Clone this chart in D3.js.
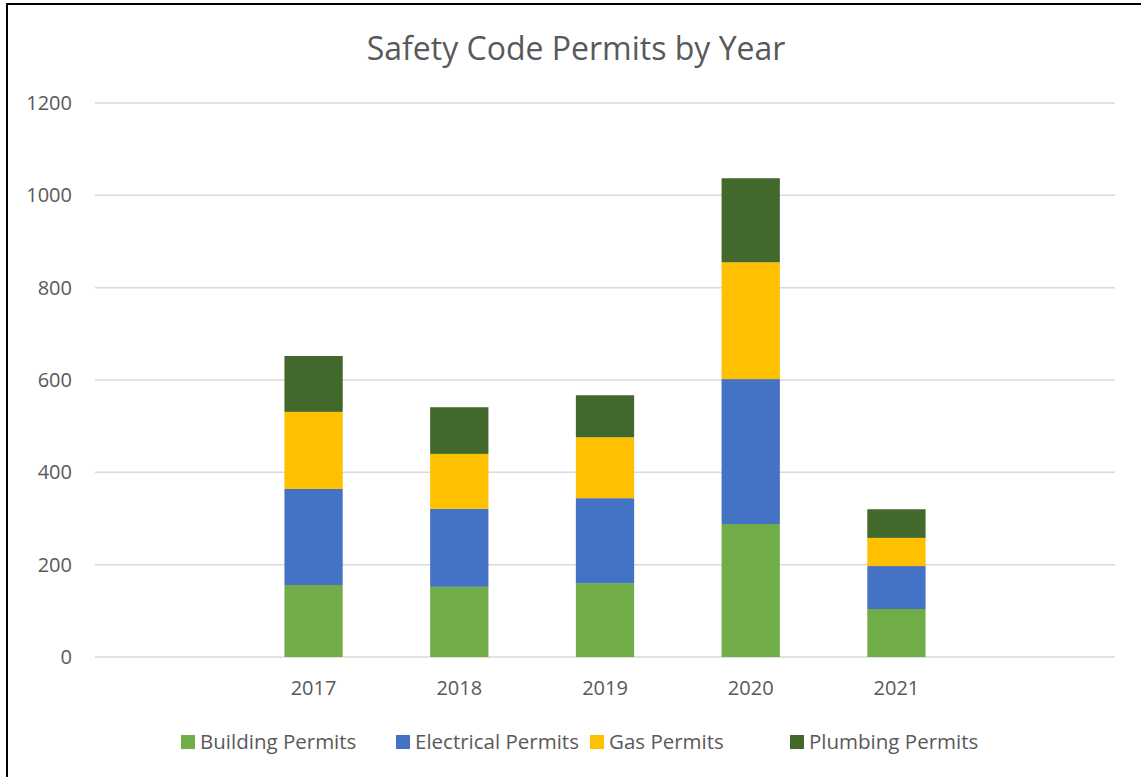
<!DOCTYPE html>
<html>
<head>
<meta charset="utf-8">
<script src="https://cdn.jsdelivr.net/npm/d3@7"></script>
<style>
  body { margin: 0; background: #fff; }
  text { font-family: "Open Sans", sans-serif; fill: #595959; }
</style>
</head>
<body>
<script>
// Data
var years = ["", "2017", "2018", "2019", "2020", "2021", " "]; // blank slots at both ends, like the original
var seriesNames = ["Building Permits", "Electrical Permits", "Gas Permits", "Plumbing Permits"];
var building   = [156, 152, 160, 288, 104];
var electrical = [208, 169, 184, 314, 93];
var gas        = [167, 119, 132, 253, 61];
var plumbing   = [121, 101, 91, 182, 62];
var yTicks = [0, 200, 400, 600, 800, 1000, 1200];
var colors = ["#70ad47", "#4472c4", "#ffc000", "#43682b"];

var W = 1141, H = 777;
var margin = {left: 95, right: 26, top: 103, bottom: 120};
var width = W - margin.left - margin.right;
var height = H - margin.top - margin.bottom;

// rows for the stack
var rows = years.slice(1, 6).map(function(y, i){
    return {year: y, "Building Permits": building[i], "Electrical Permits": electrical[i],
            "Gas Permits": gas[i], "Plumbing Permits": plumbing[i]};
});

var svg = d3.select("body").append("svg").attr("width", W).attr("height", H);

// outer frame (only the top and left edges show in the picture)
svg.append("rect").attr("x", 7).attr("y", 4).attr("width", W + 10).attr("height", H + 10)
   .attr("fill", "none").attr("stroke", "#000").attr("stroke-width", 2);

svg.append("text").attr("x", 576).attr("y", 60).attr("text-anchor", "middle")
   .style("font-size", "32px").text("Safety Code Permits by Year");

var x = d3.scaleBand().domain(years).range([0, width]).paddingInner(0).paddingOuter(0);
var y = d3.scaleLinear().domain([0, 1200]).range([height, 0]);
var barW = x.bandwidth() / 2.5;

var g = svg.append("g").attr("transform", "translate(" + margin.left + "," + margin.top + ")");

// gridlines
g.selectAll(".grid").data(yTicks).enter().append("line")
  .attr("x1", 0).attr("x2", width)
  .attr("y1", function(d){ return y(d); }).attr("y2", function(d){ return y(d); })
  .attr("stroke", "#d9d9d9").attr("stroke-width", 1.5);

// y labels
g.selectAll(".ylab").data(yTicks).enter().append("text")
  .attr("x", -23).attr("y", function(d){ return y(d); }).attr("dy", "0.35em")
  .attr("text-anchor", "end").style("font-size", "20px")
  .text(function(d){ return d; });

// x labels
g.selectAll(".xlab").data(years.slice(1, 6)).enter().append("text")
  .attr("x", function(d){ return x(d) + x.bandwidth() / 2; }).attr("y", height + 38)
  .attr("text-anchor", "middle").style("font-size", "20px")
  .text(function(d){ return d; });

// stacked bars
var stack = d3.stack().keys(seriesNames);
var layers = stack(rows);
g.selectAll(".layer").data(layers).enter().append("g")
  .attr("fill", function(d, i){ return colors[i]; })
  .selectAll("rect").data(function(d){ return d; }).enter().append("rect")
  .attr("x", function(d){ return x(d.data.year) + (x.bandwidth() - barW) / 2; })
  .attr("width", barW)
  .attr("y", function(d){ return y(d[1]); })
  .attr("height", function(d){ return y(d[0]) - y(d[1]); });

// legend
var legendX = [181, 396, 590, 790];
var legend = svg.selectAll(".leg").data(seriesNames).enter().append("g")
  .attr("transform", function(d, i){ return "translate(" + legendX[i] + ",735)"; });
legend.append("rect").attr("width", 14).attr("height", 14).attr("fill", function(d, i){ return colors[i]; });
legend.append("text").attr("x", 19).attr("y", 7).attr("dy", "0.35em")
  .style("font-size", "20.5px").text(function(d){ return d; });
</script>
</body>
</html>
